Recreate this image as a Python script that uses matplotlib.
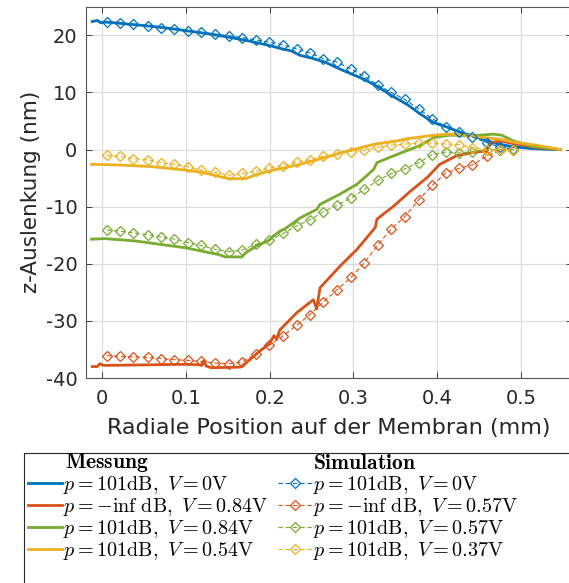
import matplotlib
matplotlib.use("Agg")
import matplotlib.pyplot as plt
from matplotlib.patches import Rectangle

plt.rcParams['font.family'] = ['DejaVu Sans']
plt.rcParams['mathtext.fontset'] = 'cm'
plt.rcParams['axes.unicode_minus'] = False

# measured profiles (Messung)
x_blue = [-0.012, -0.006, -0.002, 0.004, 0.02, 0.05, 0.075, 0.1, 0.125, 0.15, 0.175, 0.2, 0.215,
          0.225, 0.236, 0.25, 0.266, 0.282, 0.298, 0.314, 0.33, 0.346, 0.364, 0.38, 0.396, 0.412,
          0.428, 0.444, 0.46, 0.475, 0.49, 0.51, 0.53, 0.547]
y_blue = [22.4, 22.6, 22.2, 22.3, 22.1, 21.7, 21.3, 20.8, 20.3, 19.7, 19.0, 18.2, 17.6,
          17.3, 16.5, 16.0, 15.3, 14.2, 13.2, 12.2, 10.9, 9.4, 7.9, 6.2, 4.7, 3.9,
          3.0, 2.3, 1.5, 0.9, 0.5, 0.2, 0.05, 0.0]

x_orange = [-0.012, -0.006, -0.003, 0.002, 0.05, 0.1, 0.118, 0.121, 0.124, 0.13, 0.165, 0.172,
            0.188, 0.2, 0.205, 0.208, 0.212, 0.232, 0.252, 0.256, 0.26, 0.284, 0.304, 0.324,
            0.326, 0.328, 0.348, 0.368, 0.388, 0.403, 0.423, 0.443, 0.459, 0.463, 0.475,
            0.5, 0.52, 0.547]
y_orange = [-38.0, -38.0, -37.5, -37.8, -37.7, -37.6, -37.7, -37.0, -37.9, -38.2, -38.1, -37.3,
            -35.3, -33.9, -32.6, -33.2, -31.6, -28.6, -26.3, -27.9, -24.2, -20.4, -17.5, -14.0,
            -13.6, -12.2, -9.9, -7.3, -4.9, -2.6, -1.1, -0.5, -0.25, 1.2, 1.5,
            0.8, 0.3, 0.0]

x_green = [-0.013, 0.003, 0.039, 0.099, 0.139, 0.147, 0.167, 0.171, 0.184, 0.198, 0.204, 0.212,
           0.218, 0.236, 0.256, 0.26, 0.284, 0.304, 0.324, 0.328, 0.348, 0.368, 0.379, 0.396,
           0.415, 0.443, 0.467, 0.477, 0.491, 0.515, 0.547]
y_green = [-15.7, -15.6, -16.0, -17.2, -18.4, -18.8, -18.8, -18.1, -16.9, -16.0, -15.2, -14.3,
           -13.9, -12.0, -10.5, -9.6, -7.8, -6.1, -3.5, -2.3, -1.1, 0.05, 0.65, 2.1,
           2.5, 2.4, 2.7, 2.5, 1.5, 0.5, 0.0]

x_yellow = [-0.013, 0.019, 0.059, 0.099, 0.119, 0.139, 0.151, 0.171, 0.186, 0.204, 0.218, 0.244,
            0.276, 0.284, 0.316, 0.324, 0.356, 0.364, 0.396, 0.415, 0.435, 0.455, 0.475, 0.495,
            0.507, 0.535, 0.547]
y_yellow = [-2.6, -2.7, -3.0, -3.6, -4.0, -4.7, -5.1, -5.1, -4.3, -3.6, -3.2, -2.3,
            -1.0, -0.6, 0.6, 0.9, 1.6, 1.9, 2.5, 2.7, 2.5, 2.1, 1.8, 1.2,
            1.0, 0.35, 0.0]

# simulated profiles (Simulation), sampled radially
x_sim = [0.005, 0.021, 0.037, 0.054, 0.070, 0.086, 0.102, 0.118, 0.135, 0.151, 0.167,
         0.183, 0.199, 0.216, 0.232, 0.248, 0.264, 0.280, 0.297, 0.313, 0.329, 0.345,
         0.361, 0.378, 0.394, 0.410, 0.426, 0.442, 0.459, 0.475, 0.491]
sim_blue = [22.3, 22.2, 21.9, 21.7, 21.3, 21.05, 20.7, 20.5, 20.2, 19.9, 19.6,
            19.2, 18.8, 18.3, 17.6, 16.9, 15.9, 15.3, 14.1, 12.8, 11.3, 10.0,
            8.8, 7.1, 5.4, 4.0, 3.0, 2.2, 1.2, 0.4, 0.1]
sim_orange = [-36.1, -36.2, -36.3, -36.4, -36.6, -36.8, -36.9, -37.1, -37.4, -37.5, -37.2,
              -35.8, -34.3, -32.6, -30.8, -28.9, -26.7, -24.6, -22.4, -19.8, -16.7, -13.9,
              -11.8, -8.8, -6.3, -4.1, -3.3, -2.7, -1.2, -0.1, 0.0]
sim_green = [-14.1, -14.3, -14.6, -14.9, -15.3, -15.7, -16.3, -16.8, -17.5, -17.9, -17.6,
             -16.6, -15.9, -14.7, -13.4, -12.3, -10.9, -9.8, -8.5, -7.0, -5.4, -4.2,
             -3.4, -2.3, -0.9, -0.45, -0.6, -0.4, -0.1, 0.0, 0.0]
sim_yellow = [-1.0, -1.2, -1.6, -1.8, -2.3, -2.6, -3.0, -3.6, -4.0, -4.5, -4.2,
              -3.8, -3.3, -2.8, -2.2, -1.8, -1.15, -0.8, -0.35, -0.1, 0.4, 0.75,
              0.95, 1.1, 1.15, 0.95, 0.85, 0.35, -0.1, -0.05, -0.15]

meas_labels = [r'$p = 101\mathrm{dB},\ V = 0\mathrm{V}$',
               r'$p = -\mathrm{inf\ dB},\ V = 0.84\mathrm{V}$',
               r'$p = 101\mathrm{dB},\ V = 0.84\mathrm{V}$',
               r'$p = 101\mathrm{dB},\ V = 0.54\mathrm{V}$']
sim_labels = [r'$p = 101\mathrm{dB},\ V = 0\mathrm{V}$',
              r'$p = -\mathrm{inf\ dB},\ V = 0.57\mathrm{V}$',
              r'$p = 101\mathrm{dB},\ V = 0.57\mathrm{V}$',
              r'$p = 101\mathrm{dB},\ V = 0.37\mathrm{V}$']

xticks = [0, 0.1, 0.2, 0.3, 0.4, 0.5]
xticklabels = ['0', '0.1', '0.2', '0.3', '0.4', '0.5']
yticks = [-40, -30, -20, -10, 0, 10, 20]

colors = ['#0072BD', '#D95319', '#77AC30', '#EDB120']

W, H = 569, 583
fig = plt.figure(figsize=(W / 100, H / 100), dpi=100)
ax = fig.add_axes([85.6 / W, 1 - 378 / H, (572 - 85.6) / W, (378 - 6.7) / H])

meas = [(x_blue, y_blue), (x_orange, y_orange), (x_green, y_green), (x_yellow, y_yellow)]
sims = [sim_blue, sim_orange, sim_green, sim_yellow]

meas_handles = []
for (xs, ys), c in zip(meas, colors):
    h, = ax.plot(xs, ys, color=c, lw=2.0, solid_joinstyle='round')
    meas_handles.append(h)

sim_handles = []
for ys, c in zip(sims, colors):
    h, = ax.plot(x_sim, ys, color=c, lw=0.8, ls=(0, (4, 2.5)), marker='D', ms=5.5,
                 mfc='none', mec=c, mew=0.9)
    sim_handles.append(h)

ax.set_xlim(-0.02, 0.561)
ax.set_ylim(-40, 25)
ax.set_xticks(xticks)
ax.set_xticklabels(xticklabels)
ax.set_yticks(yticks)
ax.grid(True, color='#dcdcdc', lw=0.8)
ax.set_axisbelow(True)
ax.tick_params(direction='in', length=4, width=0.6, colors='#262626', labelsize=14,
               top=True, right=True)
ax.tick_params(axis='x', pad=8)
ax.tick_params(axis='y', pad=6)
for s in ax.spines.values():
    s.set_color('#555555')
    s.set_linewidth(0.8)
ax.set_xlabel('Radiale Position auf der Membran (mm)', fontsize=16, color='#262626', labelpad=7)
ax.set_ylabel('z-Auslenkung (nm)', fontsize=15.5, color='#262626', labelpad=3)

# legend box with column headings
fig.add_artist(Rectangle((24 / W, -0.05), 1.2, (583 - 453) / H + 0.05, transform=fig.transFigure,
                         facecolor='white', edgecolor='#262626', lw=0.8))
fig.text(65 / W, 1 - 463 / H, r'$\mathbf{Messung}$', fontsize=15.5, va='center', ha='left')
fig.text(313 / W, 1 - 463 / H, r'$\mathbf{Simulation}$', fontsize=15.5, va='center', ha='left')

leg = fig.legend(meas_handles + sim_handles, meas_labels + sim_labels, ncol=2, loc='upper left',
                 bbox_to_anchor=(28 / W, 1 - 474 / H), borderaxespad=0, borderpad=0,
                 fontsize=14.5, handlelength=1.7, handletextpad=0.05, columnspacing=0.45,
                 labelspacing=0.0, frameon=False, numpoints=1)

fig.savefig('out.png', dpi=100)
